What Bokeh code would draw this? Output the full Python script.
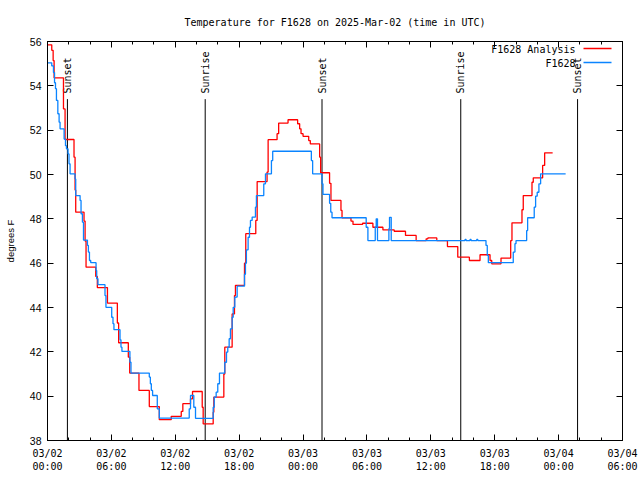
from datetime import datetime, timedelta
from math import pi

from bokeh.plotting import figure
from bokeh.models import (Range1d, FixedTicker, DatetimeTickFormatter, DatetimeAxis,
                          LinearAxis, Label, Arrow, CustomLabelingPolicy)
from bokeh.core.properties import value
from bokeh.embed import file_html
from bokeh.resources import INLINE

START = datetime(2025, 3, 2, 0, 0)
END = datetime(2025, 3, 4, 6, 0)

# F1628 observations (hours after 03/02 00:00 UTC, degrees F)
obs_hours = [0.00, 0.40, 0.56, 0.66, 0.75, 0.84, 0.97, 1.09, 1.18, 1.56, 1.69, 1.78, 1.93, 2.02,
             2.12, 2.59, 2.65, 3.06, 3.15, 3.28, 3.38, 3.75, 3.84, 3.94, 4.06, 4.56, 4.62, 4.74,
             5.40, 5.49, 6.03, 6.15, 6.24, 6.81, 6.90, 6.99, 7.74, 7.84, 9.56, 9.66, 9.75, 9.87,
             10.31, 10.50, 13.31, 13.43, 13.74, 13.90, 15.56, 15.66, 15.84, 15.99, 16.15, 16.65,
             16.81, 16.93, 17.06, 17.18, 17.34, 17.44, 17.59, 17.81, 18.50, 18.59, 18.68, 18.84,
             18.97, 19.06, 19.22, 19.53, 19.62, 20.31, 20.47, 21.03, 21.15, 24.78, 24.90, 25.78,
             25.87, 26.49, 26.60, 26.72, 29.93, 30.09, 30.78, 30.87, 30.99, 32.06, 32.12, 32.28,
             39.21, 39.31, 39.68, 39.78, 40.31, 40.41, 41.18, 41.30, 41.40, 43.74, 43.90, 44.00,
             45.00, 45.09, 45.71, 45.84, 45.99, 46.15, 46.31, 48.66]
obs_temps = [55.04, 54.9, 54.6, 54.14, 53.87, 53.34, 52.74, 52.36, 52.06, 51.6, 51.3, 51.16, 50.93, 50.48,
             50.03, 49.8, 49.05, 48.83, 48.23, 47.85, 47.04, 46.8, 46.5, 46.12, 46.02, 45.67, 45.3, 45.03,
             44.54, 44.01, 43.56, 43.27, 43.0, 42.54, 42.21, 42.02, 41.53, 41.04, 40.86, 40.56, 40.26, 40.03,
             39.43, 39.01, 39.43, 40.03, 39.5, 39.0, 39.5, 39.96, 40.18, 40.56, 41.04, 41.53,
             41.99, 42.21, 42.59, 43.04, 43.56, 44.01, 44.47, 44.96, 45.5, 46.0, 46.6, 47.17,
             47.62, 47.93, 48.08, 48.53, 49.05, 49.58, 50.03, 50.63, 51.05, 50.63, 50.03, 49.58,
             49.1, 48.7, 48.3, 48.05, 47.62, 47.02, 47.62, 48.0, 47.02, 47.56, 48.07, 47.02,
             47.07, 47.02, 47.07, 47.02, 47.07, 47.02, 46.8, 46.35, 46.02, 46.5, 46.88, 47.02,
             47.47, 48.05, 48.53, 49.02, 49.2, 49.58, 50.03, 50.03]

# F1628 Analysis
ana_hours = [0.00, 0.40, 0.53, 0.62, 1.50, 1.65, 2.49, 2.59, 2.65, 3.43, 3.53, 3.62, 4.53, 4.68,
             5.63, 6.56, 6.68, 7.59, 7.72, 8.59, 9.56, 10.50, 11.62, 12.56, 12.71, 13.43, 13.62,
             14.53, 14.62, 15.56, 15.62, 16.56, 16.65, 17.34, 17.56, 17.65, 18.50, 18.62, 19.56,
             19.69, 20.62, 20.72, 21.56, 21.71, 22.59, 23.49, 23.68, 23.81, 24.00, 24.53, 24.68,
             25.56, 25.65, 26.49, 26.62, 27.56, 27.66, 28.50, 28.69, 29.59, 30.56, 31.50, 32.56,
             33.62, 34.62, 35.56, 35.72, 36.56, 37.56, 38.53, 39.62, 40.62, 41.56, 41.72, 42.59,
             43.50, 43.62, 44.56, 44.68, 45.50, 45.62, 46.50, 46.69, 47.44]
ana_temps = [55.85, 55.6, 55.14, 54.36, 52.96, 51.58, 50.78, 49.3, 48.3, 47.9, 47.0, 45.82, 45.4, 44.9,
             44.2, 43.3, 42.41, 41.76, 41.04, 40.26, 39.53, 38.94, 39.09, 39.31, 39.66, 39.88, 40.21,
             39.5, 38.75, 39.28, 39.96, 41.0, 42.21, 43.71, 44.54, 45.0, 46.0, 47.33, 47.93,
             49.68, 50.11, 51.57, 51.84, 52.32, 52.47, 52.29, 52.06, 51.84, 51.72, 51.53, 51.38,
             50.78, 50.08, 49.6, 48.83, 48.38, 48.05, 47.9, 47.75, 47.8, 47.62, 47.5, 47.44,
             47.25, 47.02, 47.1, 47.14, 47.02, 46.75, 46.27, 46.12, 46.38, 46.12, 45.97, 46.23,
             47.02, 47.82, 48.41, 49.05, 49.65, 49.85, 50.41, 50.98, 50.98]

sun_hours = [1.87, 14.81, 25.78, 38.81, 49.78]
sun_names = ["Sunset", "Sunrise", "Sunset", "Sunrise", "Sunset"]

y_ticks = [38, 40, 42, 44, 46, 48, 50, 52, 54, 56]

MONO = "DejaVu Sans Mono"
SANS = "Liberation Sans"
RED = "#ff0000"
BLUE = "#0a84ff"


def to_dt(hours):
    return [START + timedelta(hours=h) for h in hours]


def ms(dt):
    return (dt - datetime(1970, 1, 1)).total_seconds() * 1000.0


p = figure(width=640, height=480, x_axis_type="datetime",
           x_range=Range1d(START, END), y_range=Range1d(38, 56),
           output_backend="svg", toolbar_location=None,
           min_border_left=47, min_border_right=18, min_border_top=41, min_border_bottom=40)

p.title.text = "Temperature for F1628 on 2025-Mar-02 (time in UTC)"
p.title.align = "center"
p.title.text_font = MONO
p.title.text_font_size = "10px"
p.title.text_font_style = "normal"
p.title.text_color = "black"
p.title.standoff = 27

p.grid.visible = False
p.outline_line_color = "black"
p.outline_line_alpha = 1.0
p.background_fill_color = "white"
p.border_fill_color = "white"

n_major = int((END - START).total_seconds() // (6 * 3600)) + 1
major = [ms(START + timedelta(hours=6 * i)) for i in range(n_major)]
minor = [ms(START + timedelta(hours=2 * i)) for i in range(3 * (n_major - 1) + 1)]
xticker = FixedTicker(ticks=major, minor_ticks=minor)
yticker = FixedTicker(ticks=y_ticks, minor_ticks=[])

fmt = "%m/%d\n%H:%M"
xfmt = DatetimeTickFormatter(hours=fmt, hourmin=fmt, days=fmt, minutes=fmt, minsec=fmt,
                             months=fmt, years=fmt)

no_labels = CustomLabelingPolicy(code="""
try { return indices.constructor.all_unset(indices.size) } catch (e) {}
for (const i of Array.from(indices)) { indices.unset(i) }
return indices
""")

xa = p.xaxis[0]
xa.ticker = xticker
xa.formatter = xfmt
xa.major_label_text_font = MONO
xa.major_label_text_font_size = "10px"
xa.major_label_standoff = 7

ya = p.yaxis[0]
ya.ticker = yticker
ya.axis_label = "degrees F"
ya.axis_label_text_font = SANS
ya.axis_label_text_font_size = "9.5px"
ya.axis_label_text_font_style = "normal"
ya.axis_label_text_color = "black"
ya.axis_label_standoff = 11
ya.major_label_text_font = SANS
ya.major_label_text_font_size = "10.5px"
ya.major_label_standoff = 6

top = DatetimeAxis(ticker=xticker, formatter=xfmt, major_label_policy=no_labels)
top.major_label_standoff = 0
top.major_label_text_font_size = "0px"
right = LinearAxis(ticker=yticker, major_label_policy=no_labels)
right.major_label_standoff = 0
right.major_label_text_font_size = "0px"
p.add_layout(top, "above")
p.add_layout(right, "right")

for ax in (xa, ya, top, right):
    ax.major_tick_in = 6
    ax.major_tick_out = 0
    ax.minor_tick_in = 3
    ax.minor_tick_out = 0
    ax.axis_line_color = "black"
    ax.major_tick_line_color = "black"
    ax.minor_tick_line_color = "black"
    ax.major_label_text_color = "black"

# sunrise / sunset markers
sun_dt = to_dt(sun_hours)
p.segment(x0=sun_dt, y0=[38] * len(sun_dt), x1=sun_dt, y1=[53.4] * len(sun_dt),
          line_color="black", line_width=1)
p.text(x=sun_dt, y=[53.65] * len(sun_dt), text=sun_names, angle=pi / 2,
       text_align="left", text_baseline="middle", text_color="black",
       text_font=value(MONO), text_font_size="10px")

# series
p.step(to_dt(ana_hours), ana_temps, mode="after", line_color=RED, line_width=1.3)
p.step(to_dt(obs_hours), obs_temps, mode="after", line_color=BLUE, line_width=1.3)

# key (text left of sample, as in the original)
for i, (name, col) in enumerate([("F1628 Analysis", RED), ("F1628", BLUE)]):
    yy = 391 - 14 * i
    p.add_layout(Label(x=528, y=yy, x_units="screen", y_units="screen", text=name,
                       text_align="right", text_baseline="middle",
                       text_font=MONO, text_font_size="10px", text_color="black"))
    p.add_layout(Arrow(x_start=536, y_start=yy + 1, x_end=564, y_end=yy + 1,
                       start_units="screen", end_units="screen", end=None,
                       line_color=col, line_width=1.3))

open("out.html", "w").write(file_html(p, INLINE))
